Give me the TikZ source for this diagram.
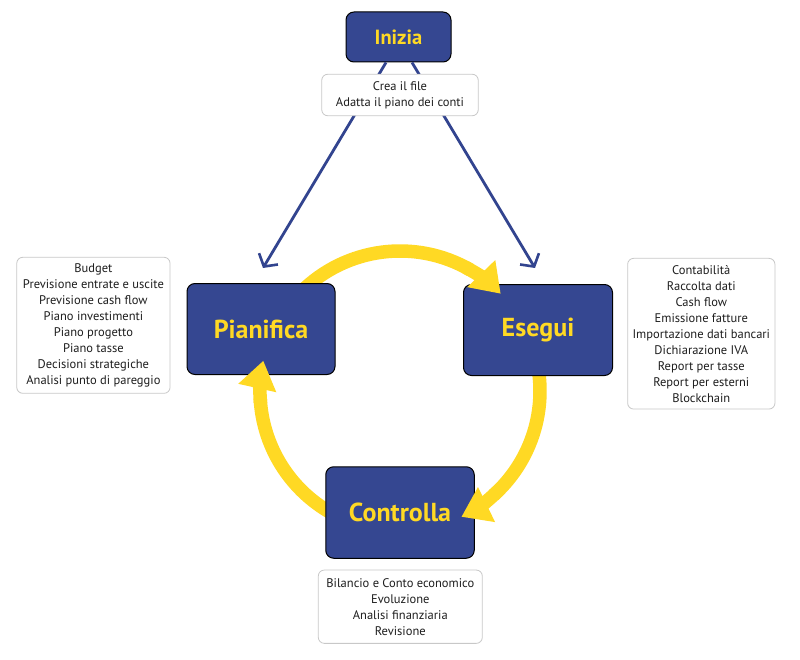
\documentclass[tikz,border=0pt]{standalone}
\usepackage{fontspec}
\setmainfont{PT Sans}
\usetikzlibrary{arrows.meta}
\pgfdeclarelayer{bgzero}
\pgfdeclarelayer{bgone}
\pgfsetlayers{bgzero,bgone,main}
\definecolor{boxblue}{RGB}{53,71,145}
\definecolor{lineblue}{RGB}{50,68,143}
\definecolor{ayellow}{RGB}{255,217,36}
\definecolor{lgray}{RGB}{200,200,200}
\definecolor{txt}{RGB}{30,30,30}
\begin{document}
\begin{tikzpicture}[x=1pt,y=-1pt,
  mainbox/.style={draw=black, line width=1pt, fill=boxblue, rounded corners=8pt, inner sep=0pt,
     text=ayellow, font=\fontsize{26}{28}\selectfont\bfseries},
  listbox/.style={draw=lgray, line width=0.8pt, fill=white, rounded corners=6pt, inner sep=0pt,
     align=center, text=txt, font=\fontsize{12.5}{16}\selectfont},
  bluearrow/.style={draw=lineblue, line width=2.8pt, -{Straight Barb[length=9pt,width=22pt,line width=2.6pt]}},
  yarc/.style={draw=ayellow, line width=13.5pt},
  yhead/.style={draw=ayellow, line width=13.5pt, -{Triangle[width=37pt,length=28pt]}}
]
\useasboundingbox (0,0) rectangle (800,660);
\begin{pgfonlayer}{bgzero}
\fill[white] (0,0) rectangle (800,660);
\end{pgfonlayer}

% main boxes
\node[mainbox, minimum width=105pt, minimum height=50pt, font=\fontsize{20.5}{22}\selectfont\bfseries] (inizia) at (398.5,37) {Inizia};
\node[mainbox, minimum width=148pt, minimum height=91pt] (pianifica) at (261,329) {Pianifica};
\node[mainbox, minimum width=149pt, minimum height=91pt] (esegui) at (538,330) {Esegui};
\node[mainbox, minimum width=148.5pt, minimum height=91.5pt] (controlla) at (400,512.5) {Controlla};

% blue arrows from Inizia
\draw[bluearrow] ([xshift=-12.5pt]inizia.south) -- ([xshift=2pt,yshift=15pt]pianifica.north);
\draw[bluearrow] ([xshift=13.5pt]inizia.south) -- ([xshift=-3pt,yshift=16pt]esegui.north);

% text boxes
\node[listbox, minimum width=156.5pt, minimum height=41.5pt] (crea) at (400,95)
  {Crea il file\\Adatta il piano dei conti};
\node[listbox, minimum width=153.3pt, minimum height=136pt] (plist) at (93.4,325.3)
  {Budget\\Previsione entrate e uscite\\Previsione cash flow\\Piano investimenti\\Piano progetto\\Piano tasse\\Decisioni strategiche\\Analisi punto di pareggio};
\node[listbox, minimum width=147.3pt, minimum height=150.7pt] (elist) at (701.3,333.7)
  {Contabilità\\Raccolta dati\\Cash flow\\Emissione fatture\\Importazione dati bancari\\Dichiarazione IVA\\Report per tasse\\Report per esterni\\Blockchain};
\node[listbox, minimum width=164pt, minimum height=73.3pt] (clist) at (400.3,606.7)
  {Bilancio e Conto economico\\Evoluzione\\Analisi finanziaria\\Revisione};

% yellow cycle: arcs start under the boxes, heads drawn on top
\coordinate (c) at (400,391);
\begin{pgfonlayer}{bgone}
  \draw[yarc] (c) ++(-135:140) arc[start angle=-135, end angle=-60, radius=140];
  \draw[yarc] (c) ++(-10:140) arc[start angle=-10, end angle=48, radius=140];
  \draw[yarc] (c) ++(115:140) arc[start angle=115, end angle=177, radius=140];
\end{pgfonlayer}
\draw[yhead] (c) ++(-62:140) arc[start angle=-62, end angle=-44, radius=140];
\draw[yhead] (c) ++(46:140) arc[start angle=46, end angle=64, radius=140];
\draw[yhead] (c) ++(175:140) arc[start angle=175, end angle=192.5, radius=140];
\end{tikzpicture}
\end{document}
